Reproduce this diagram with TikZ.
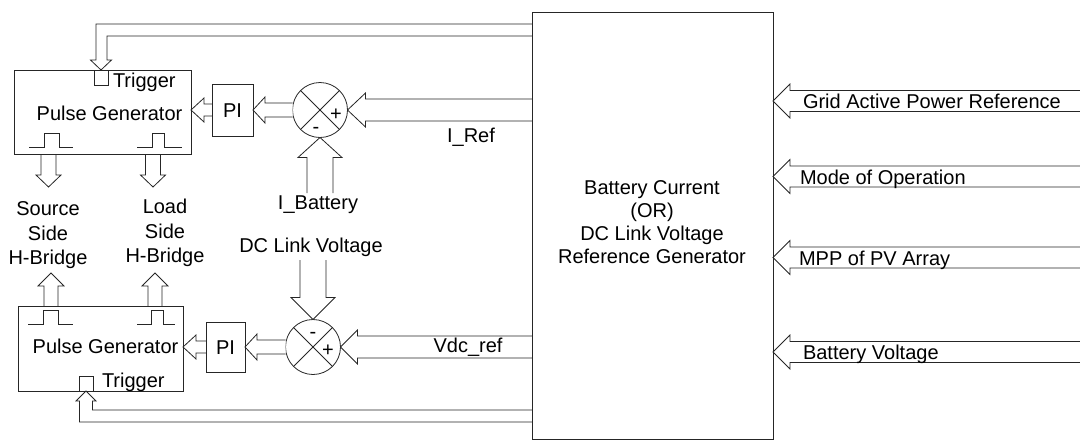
\documentclass[tikz,border=0pt]{standalone}
\usepackage{fontspec}
\setmainfont{Liberation Sans}
\usetikzlibrary{calc}
% hollow arrow: #1 tail, #2 tip, #3 shaft half width, #4 head half width, #5 head length
\newcommand\hollowarr[5]{%
  \path (#2) coordinate (hTip) ($(#2)!#5!(#1)$) coordinate (hBase) (#1) coordinate (hTail);
  \filldraw[harrow] ($(hTail)!#3!90:(hTip)$) -- ($(hBase)!#3!90:(hTip)$) -- ($(hBase)!#4!90:(hTip)$)
     -- (hTip) -- ($(hBase)!#4!-90:(hTip)$) -- ($(hBase)!#3!-90:(hTip)$) -- ($(hTail)!#3!-90:(hTip)$);
}
\begin{document}
\begin{tikzpicture}[x=1pt,y=-1pt, line width=0.8pt,
  blk/.style={draw=black!85, rectangle, inner sep=0, outer sep=0},
  sumc/.style={draw=black!85, circle, minimum size=55pt, inner sep=0, outer sep=0,
     path picture={\draw[black!85] (path picture bounding box.north west) -- (path picture bounding box.south east)
        (path picture bounding box.north east) -- (path picture bounding box.south west);}},
  harrow/.style={fill=white, draw=black!85, line join=miter},
  lbl/.style={font=\fontsize{20}{24}\selectfont, inner sep=0, outer sep=0, text height=14.3pt, text depth=0pt},
  wire/.style={draw=black!85}]
\useasboundingbox (0,0) rectangle (1080,440);

% ---- positions of main blocks
\coordinate (genC) at (652.5,225.5);
\coordinate (pgTC) at (102.5,112);
\coordinate (pgBC) at (100.5,348.5);
\coordinate (piTC) at (232.5,110);
\coordinate (piBC) at (225.5,347);
\coordinate (sTC) at (320,110);
\coordinate (sBC) at (313,347);

\path (genC) node[blk, minimum width=241pt, minimum height=427pt] (gen) {};
\path (pgTC) node[blk, minimum width=177pt, minimum height=84pt] (pgT) {};
\path (pgBC) node[blk, minimum width=165pt, minimum height=85pt] (pgB) {};
\path (piTC) node[blk, minimum width=41pt, minimum height=52pt] (piT) {};
\path (piBC) node[blk, minimum width=39pt, minimum height=50pt] (piB) {};
\path (sTC) node[sumc] (sT) {};
\path (sBC) node[sumc] (sB) {};

% ---- helper coordinates
\coordinate (irefTail) at (gen.west |- sT.east);
\coordinate (vdcTail) at (gen.west |- sB.east);
\coordinate (piTtip) at (pgT.east |- piT.west);
\coordinate (piBtip) at (pgB.east |- piB.west);
\coordinate (ibatTail) at (320,193);
\coordinate (dclTail) at (313,260);
\coordinate (oT1tip) at (48.5,187);  \coordinate (oT1tail) at (oT1tip |- pgT.south);
\coordinate (oT2tip) at (153,187);   \coordinate (oT2tail) at (oT2tip |- pgT.south);
\coordinate (oB1tip) at (51,273);    \coordinate (oB1tail) at (oB1tip |- pgB.north);
\coordinate (oB2tip) at (155,273);   \coordinate (oB2tail) at (oB2tip |- pgB.north);
\coordinate (in1) at (1080,101);   \coordinate (in1tip) at (gen.east |- in1);
\coordinate (in2) at (1080,176.5); \coordinate (in2tip) at (gen.east |- in2);
\coordinate (in3) at (1080,257.5); \coordinate (in3tip) at (gen.east |- in3);
\coordinate (in4) at (1080,352);   \coordinate (in4tip) at (gen.east |- in4);

% ---- hollow arrows
\hollowarr{irefTail}{sT.east}{11pt}{17pt}{18pt}
\hollowarr{vdcTail}{sB.east}{11pt}{17pt}{17pt}
\hollowarr{sT.west}{piT.east}{7pt}{13pt}{12pt}
\hollowarr{sB.west}{piB.east}{7pt}{13pt}{12pt}
\hollowarr{piT.west}{piTtip}{6pt}{12pt}{13pt}
\hollowarr{piB.west}{piBtip}{6pt}{12pt}{13pt}
\hollowarr{ibatTail}{sT.south}{13pt}{22pt}{20pt}
\hollowarr{dclTail}{sB.north}{13pt}{22pt}{22pt}
\hollowarr{oT1tail}{oT1tip}{7.5pt}{12.5pt}{12pt}
\hollowarr{oT2tail}{oT2tip}{7.5pt}{12.5pt}{12pt}
\hollowarr{oB1tail}{oB1tip}{7pt}{13pt}{13pt}
\hollowarr{oB2tail}{oB2tip}{7pt}{13pt}{13pt}
\hollowarr{in1}{in1tip}{10.5pt}{17pt}{17pt}
\hollowarr{in2}{in2tip}{10.5pt}{17pt}{17pt}
\hollowarr{in3}{in3tip}{10.5pt}{17pt}{17pt}
\hollowarr{in4}{in4tip}{10.5pt}{17pt}{17pt}

% ---- trigger feedback arrows (L-shaped hollow)
\coordinate (trT) at (101,70);
\coordinate (trB) at (86,391);
\draw[wire, line join=miter] (gen.west |- 0,24) -- (96,24) -- (96,60) -- (90.5,60) -- (trT) -- (111.5,60) -- (107,60) -- (107,36) -- (gen.west |- 0,36);
\draw[wire, line join=miter] (gen.west |- 0,422) -- (79.5,422) -- (79.5,401) -- (76,401) -- (trB) -- (96,401) -- (92.5,401) -- (92.5,410) -- (gen.west |- 0,410);

% ---- redraw blocks on top
\draw[wire] (gen.north west) rectangle (gen.south east);
\draw[wire] (pgT.north west) rectangle (pgT.south east);
\draw[wire] (pgB.north west) rectangle (pgB.south east);
\draw[wire] (piT.north west) rectangle (piT.south east);
\draw[wire] (piB.north west) rectangle (piB.south east);

% ---- trigger notches
\draw[wire] (94,70) -- (94,85) -- (108,85) -- (108,70);
\draw[wire] (79,391) -- (79,376) -- (93,376) -- (93,391);

% ---- pulses
\draw[wire] (29,147) -- (44,147) -- (44,133) -- (59,133) -- (59,147) -- (73,147);
\draw[wire] (137,147) -- (152,147) -- (152,133) -- (164,133) -- (164,147) -- (182,147);
\draw[wire] (28,324) -- (43,324) -- (43,310) -- (58,310) -- (58,324) -- (73,324);
\draw[wire] (137,324) -- (151,324) -- (151,310) -- (163,310) -- (163,324) -- (175,324);

% ---- labels
\node[lbl, anchor=west] (tgT) at (113,80) {Trigger};
\node[lbl] (pgTt) at (109.5,113) {Pulse Generator};
\node[lbl, anchor=west] (tgB) at (102,380) {Trigger};
\node[lbl] (pgBt) at (105.5,346) {Pulse Generator};
\node[lbl] (piTt) at (piT.center) {PI};
\node[lbl] (piBt) at (piB.center) {PI};
\node[lbl] (sTp) at (336,113) {+};
\node[lbl] (sTm) at (316,126) {-};
\node[lbl] (sBm) at (313,331) {-};
\node[lbl] (sBp) at (328,349) {+};
\node[lbl] (src1) at (48,208) {Source};
\node[lbl] (src2) at (48,233) {Side};
\node[lbl] (src3) at (48,257) {H-Bridge};
\node[lbl] (ld1) at (165,206) {Load};
\node[lbl] (ld2) at (165,231) {Side};
\node[lbl] (ld3) at (165,255) {H-Bridge};
\node[lbl] (dcl) at (311,245) {DC Link Voltage};
\node[lbl] (ibat) at (318,202) {I\_Battery};
\node[lbl] (iref) at (471,135) {I\_Ref};
\node[lbl] (vdc) at (468,345) {Vdc\_ref};
\node[lbl] (g1) at (652,187) {Battery Current};
\node[lbl] (g2) at (652,210) {(OR)};
\node[lbl] (g3) at (652,233) {DC Link Voltage};
\node[lbl] (g4) at (652,256) {Reference Generator};
\node[lbl, anchor=west] (r1) at (803,101) {Grid Active Power Reference};
\node[lbl, anchor=west] (r2) at (800,177) {Mode of Operation};
\node[lbl, anchor=west] (r3) at (799,258) {MPP of PV Array};
\node[lbl, anchor=west] (r4) at (803,352) {Battery Voltage};
\end{tikzpicture}
\end{document}
